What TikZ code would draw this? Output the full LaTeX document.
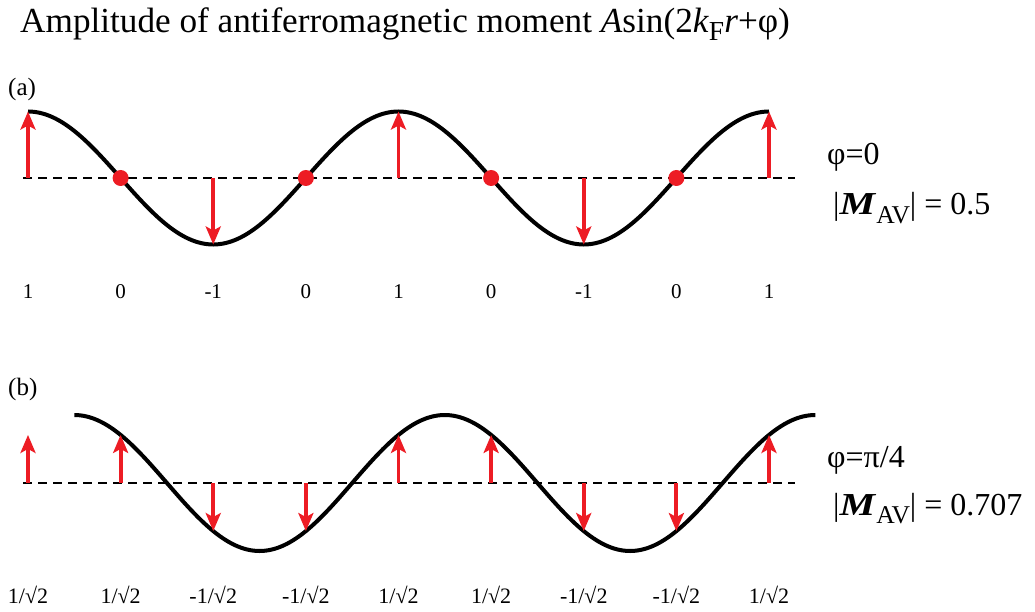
\documentclass[tikz,border=0pt]{standalone}
\usepackage{fontspec}
\setmainfont{Liberation Serif}
\usepackage{graphicx}
\usetikzlibrary{arrows.meta}
\definecolor{myred}{RGB}{237,28,36}
\newcommand{\lowsub}[1]{\raisebox{-0.22em}{\scalebox{0.78}{#1}}}
\newcommand{\avsub}{\raisebox{-0.26em}{\scalebox{0.8}{AV}}}
\newcommand{\bigM}{\scalebox{1.25}[1]{\textbf{\textit{M}}}}
\tikzset{
  wave/.style={line width=4pt, black},
  baseln/.style={line width=1.8pt, black, dash pattern=on 9pt off 6pt},
  moment/.style={line width=3.8pt, myred, -{Stealth[length=18pt,width=15pt,inset=4pt]}},
  dotnode/.style={circle, fill=myred, inner sep=0pt, minimum size=16pt},
  panel/.style={anchor=base west, inner sep=0pt, font=\fontsize{25}{30}\selectfont},
  vlbl/.style={anchor=base, inner sep=0pt, font=\fontsize{21}{25}\selectfont},
  vlblb/.style={anchor=base, inner sep=0pt, font=\fontsize{22}{26}\selectfont},
  rl/.style={anchor=base west, inner sep=0pt, font=\fontsize{32}{36}\selectfont},
}
\begin{document}
\begin{tikzpicture}[x=1pt,y=-1pt]
\useasboundingbox (0,0) rectangle (1035,612);
\node[anchor=base west, inner sep=0pt, font=\fontsize{35.2}{40}\selectfont] (title) at (20,32.5)
  {Amplitude of antiferromagnetic moment \textit{A}sin(2\textit{k}\lowsub{F}\textit{r}+φ)};
\node[panel] (la) at (8,96) {(a)};
\node[panel] (lb) at (8,395) {(b)};
% ---------- panel (a)
\coordinate (aL) at (23,178);
\coordinate (aR) at (795,178);
\draw[baseln] (aL) -- (aR);
\draw[wave] plot[domain=0:720, samples=241, smooth] ({28+\x/360*370.5}, {178-66.5*cos(\x)});
\foreach \i/\s in {0/1,2/-1,4/1,6/-1,8/1}{
  \coordinate (ab\i) at ({28+\i*92.625},178);
  \coordinate (at\i) at ({28+\i*92.625},{178-66.5*\s});
  \draw[moment] (ab\i) -- (at\i);
}
\foreach \i in {1,3,5,7}{
  \node[dotnode] (ad\i) at ({28+\i*92.625},178) {};
}
\foreach \i/\t in {0/1,1/0,2/-1,3/0,4/1,5/0,6/-1,7/0,8/1}{
  \node[vlbl] (av\i) at ({28+\i*92.625},298) {\t};
}
\node[rl] (pa) at (827,165) {φ=0};
\node[rl] (ma) at (833,215) {|\bigM\avsub| = 0.5};
% ---------- panel (b)
\coordinate (bL) at (23,483);
\coordinate (bR) at (795,483);
\draw[baseln] (bL) -- (bR);
\draw[wave] plot[domain=45:765, samples=241, smooth] ({28+\x/360*370.5}, {483-68*cos(\x-45)});
\foreach \i in {0,...,8}{
  \coordinate (bb\i) at ({28+\i*92.625},483);
  \coordinate (bt\i) at ({28+\i*92.625},{483-68*cos(\i*90-45)});
  \draw[moment] (bb\i) -- (bt\i);
}
\foreach \i/\t in {0/1,1/1,2/-1,3/-1,4/1,5/1,6/-1,7/-1,8/1}{
  \node[vlblb] (bv\i) at ({28+\i*92.625},603) {\ifnum\t<0 -\fi1/√2};
}
\node[rl] (pb) at (827,467) {φ=π/4};
\node[rl] (mb) at (833,515) {|\bigM\avsub| = 0.707};
\end{tikzpicture}
\end{document}
